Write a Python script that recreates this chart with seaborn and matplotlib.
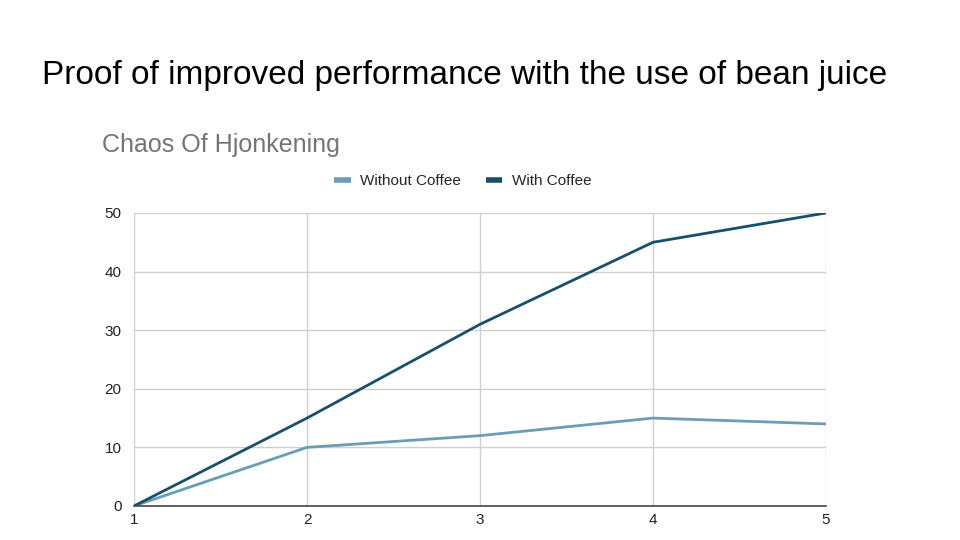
import matplotlib
matplotlib.use("Agg")
import matplotlib.pyplot as plt
import seaborn as sns
import pandas as pd

day = [1, 2, 3, 4, 5]
without_coffee = [0, 10, 12, 15, 14]
with_coffee = [0, 15, 31, 45, 50]
series_names = ["Without Coffee", "With Coffee"]
slide_title = "Proof of improved performance with the use of bean juice"
chart_title = "Chaos Of Hjonkening"

sns.set_theme(style="whitegrid")
plt.rcParams['font.family'] = ['Liberation Sans', 'DejaVu Sans']

df = pd.DataFrame({
    "day": day * 2,
    "value": without_coffee + with_coffee,
    "series": [series_names[0]] * len(day) + [series_names[1]] * len(day),
})

colors = ["#6b9db6", "#17506a"]

fig = plt.figure(figsize=(9.6, 5.4), dpi=100)
ax = fig.add_axes([0.1396, 0.063, 0.7208, 0.5426])

sns.lineplot(
    data=df, x="day", y="value", hue="series",
    palette=colors, linewidth=2, ax=ax, legend=False
)

ax.set_xlim(1, 5)
ax.set_ylim(0, 50)
ax.set_xticks(day)
ax.set_yticks([0, 10, 20, 30, 40, 50])
ax.set_xlabel("")
ax.set_ylabel("")
ax.grid(True, color="#d0d0d0", linewidth=1)
ax.tick_params(axis="both", labelsize=11, colors="#222222", length=0)
ax.tick_params(axis="x", pad=5)
ax.tick_params(axis="y", pad=9)
for side in ["top", "right", "left"]:
    ax.spines[side].set_visible(False)
ax.spines["bottom"].set_color("#444444")
ax.spines["bottom"].set_linewidth(1.2)

fig.text(0.044, 0.861, slide_title, fontsize=24, color="black", va="center")
fig.text(0.106, 0.731, chart_title, fontsize=18, color="#757575", va="center")

handles = [plt.Line2D([], [], color=c, linewidth=4, solid_capstyle="butt") for c in colors]
fig.legend(handles, series_names, loc="center", bbox_to_anchor=(0.482, 0.665),
           ncol=2, frameon=False, fontsize=11, handlelength=1.1,
           columnspacing=1.6, handletextpad=0.6)

fig.savefig("out.png", dpi=100)
